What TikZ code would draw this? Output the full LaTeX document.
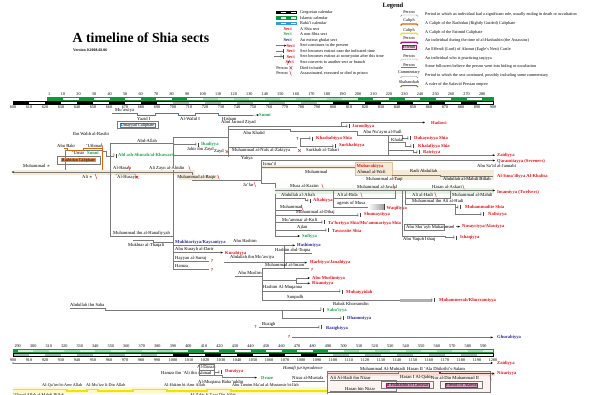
\documentclass[tikz,border=0pt]{standalone}
\usepackage{fontspec}
\setmainfont{Liberation Serif}
\usetikzlibrary{arrows.meta}
\definecolor{sred}{HTML}{E3121B}
\definecolor{sgreen}{HTML}{1AA64A}
\definecolor{sblue}{HTML}{2B2B9E}
\definecolor{igreen}{HTML}{0C9A3C}
\definecolor{lgreen}{HTML}{A6DDB6}
\definecolor{beige}{HTML}{F4EAD6}
\definecolor{twg}{HTML}{E4F2E0}
\definecolor{orng}{HTML}{D9650B}
\definecolor{ylw}{HTML}{F2E200}
\definecolor{fatim}{HTML}{FFF8C8}
\definecolor{mgt}{HTML}{B0106A}
\definecolor{lgr}{HTML}{7A7A7A}
\definecolor{bahai}{HTML}{2F9BD7}
\definecolor{umay}{HTML}{2A86C2}
\definecolor{nzpink}{HTML}{F9DCD4}
\definecolor{olv}{HTML}{8A7A2A}
\newcommand\labfont{\fontsize{4.6}{5}\selectfont}
\newcommand\legfont{\fontsize{4.2}{4.6}\selectfont}
\newcommand\lgbrk[3]{\draw[#2,line width=#3] (400.5,#1+1.4) -- (402,#1) -- (416.5,#1) -- (418,#1+1.4);}
\tikzset{
 lab/.style={anchor=west,inner sep=0,font=\labfont},
 sect/.style={anchor=west,inner sep=0,font=\labfont\bfseries,text=sred},
 sectg/.style={sect,text=sgreen},
 sectb/.style={sect,text=sblue},
 sc/.style={inner sep=0,font=\legfont},
 lg/.style={anchor=west,inner sep=0,font=\legfont},
 ln/.style={draw=lgr,line width=.45pt},
 arr/.style={-{Stealth[length=2.4pt,width=2pt,color=black]}},
 qm/.style={inner sep=0,font=\labfont\bfseries,text=sred},
 dk/.pic={\draw[sred,line width=.35pt] (-.8,-2.4)--(.8,2.4);},
 dx/.pic={\draw[sred,line width=.4pt] (-1.4,-1.5)--(1.4,1.5) (-1.4,1.5)--(1.4,-1.5);},
 sq/.pic={\node[inner sep=0,font=\fontsize{4}{4}\selectfont,text=black!65] (s) at (-2.1,0) {\S}; \draw[black!75,line width=.4pt] (0,-2)--(0,2);},
}
\begin{document}
\begin{tikzpicture}[x=1pt,y=-1pt]
\useasboundingbox (0,0) rectangle (600,394);
\clip (0,0) rectangle (600,394);
\fill[white] (0,0) rectangle (600,394);

% ---------- title ----------
\node[anchor=west,inner sep=0,font=\fontsize{13.8}{14}\selectfont\bfseries] (title) at (72.5,38) {A timeline of Shia sects};
\node[anchor=west,inner sep=0,font=\fontsize{3.9}{4}\selectfont\bfseries] (ver) at (73,50) {Version 0.2008.02.06};

% ---------- legend ----------
\node[inner sep=0,font=\fontsize{6.5}{7}\selectfont\bfseries] (leg) at (393,5.5) {Legend};
\foreach \k in {0,2} {\fill[black] ({276+5*\k},11) rectangle ++(5,2.6);}
\draw[black,line width=.35pt] (276,11) rectangle (296,13.6);
\foreach \k in {0,2} {\fill[igreen] ({276+5*\k},16.4) rectangle ++(5,2.6);}
\draw[igreen,line width=.35pt] (276,16.4) rectangle (296,19);
\foreach \k in {0,2} {\fill[bahai] ({276+5*\k},21.9) rectangle ++(5,2.6);}
\draw[bahai,line width=.35pt] (276,21.9) rectangle (296,24.5);
\node[sect,anchor=east] (ls4) at (292,28.9) {Sect};
\node[sectg,anchor=east] (ls5) at (292,34.4) {Sect};
\node[sectb,anchor=east] (ls6) at (292,40) {Sect};
\node[sect,anchor=east] (ls7) at (295,45.6) {Sect};
\draw[ln,arr] (276,45.6) -- (ls7.west);
\node[sect,anchor=east] (ls8) at (295,51.1) {Sect};
\draw[ln] (276,51.1) -- (283.5,51.1);
\draw[black!75,line width=.4pt] (283.5,49.2) -- (283.5,53);
\node[sect,anchor=east] (ls9) at (295,56.7) {Sect};
\draw[ln] (274,56.7) -- (283.5,56.7);
\pic at (283.5,56.7) {sq};
\node[sect,anchor=east] (ls10) at (294,62.2) {Sect};
\draw[black,line width=.3pt] (287.5,64.6) -- (289.5,59.8);
\node[lg,anchor=east] (ls11) at (288,67.8) {Person};
\pic at (290.8,67.8) {dx};
\node[lg,anchor=east] (ls12) at (288,73.3) {Person};
\pic at (290.5,73.3) {dk};

\node[lg] (lt1) at (300,12.3) {Gregorian calendar};
\node[lg] (lt2) at (300,17.8) {Islamic calendar};
\node[lg] (lt3) at (300,23.3) {Bahá'í calendar};
\node[lg] (lt4) at (300,28.9) {A Shia sect};
\node[lg] (lt5) at (300,34.4) {A non-Shia sect};
\node[lg] (lt6) at (300,40) {An extinct ghulat sect};
\node[lg] (lt7) at (300,45.6) {Sect continues to the present};
\node[lg] (lt8) at (300,51.1) {Sect becomes extinct near the indicated time};
\node[lg] (lt9) at (300,56.7) {Sect becomes extinct at some point after this time};
\node[lg] (lt10) at (300,62.2) {Sect converts to another sect or branch};
\node[lg] (lt11) at (300,67.8) {Died in battle};
\node[lg] (lt12) at (300,73.3) {Assassinated, executed or died in prison};

\node[sc] (lr1) at (409,11.8) {Person}; \lgbrk{15}{lgr}{.45pt}
\node[sc] (lr2) at (409,20.8) {Caliph}; \lgbrk{24}{orng}{1.3pt}
\node[sc] (lr3) at (409,30) {Caliph}; \lgbrk{33.3}{ylw}{1.3pt}
\node[sc] (lr4) at (409,38.4) {Person}; \lgbrk{42.2}{mgt}{1.3pt}
\node[sc,draw=mgt,fill=mgt!18,line width=.45pt,inner sep=.7pt] (lr5) at (409,47.4) {Effendi};
\node[sc] (lr6) at (409,55.8) {Person}; \draw[lgr,line width=.45pt,dash pattern=on 1pt off .7pt] (400.5,60.5) -- (402,59.2) -- (416.5,59.2) -- (418,60.5);
\node[sc] (lr7) at (409,64.8) {Person}; \draw[lgr,line width=.45pt] (401,67.3) -- (417,67.3);
\node[sc] (lr8) at (409,72.8) {Commentary}; \lgbrk{76.5}{lgr}{.45pt}
\node[sc] (lr9) at (409,81.8) {Shahanshah}; \lgbrk{85.6}{olv}{1.1pt}

\node[lg] (rt1) at (425,14) {Period in which an individual had a significant role, usually ending in death or occultation};
\node[lg] (rt2) at (425,23.3) {A Caliph of the Rashidun (Rightly Guided) Caliphate};
\node[lg] (rt3) at (425,32.2) {A Caliph of the Fatimid Caliphate};
\node[lg] (rt4) at (425,40.8) {An individual during the time of al-Hashashin (the Assassins)};
\node[lg] (rt5) at (425,49.3) {An Effendi (Lord) of Alamut (Eagle's Nest) Castle};
\node[lg] (rt6) at (425,58) {An individual who is practicing taqiyya};
\node[lg] (rt7) at (425,66.6) {Some followers believe the person went into hiding or occultation};
\node[lg] (rt8) at (425,75) {Period in which the sect continued, possibly including some commentary};
\node[lg] (rt9) at (425,84.6) {A ruler of the Safavid Persian empire};

% ---------- top scale ----------
\foreach \i in {0,2,...,8} {\fill[black] ({13+16*\i},101) rectangle ++(16,3);}
\foreach \i in {10,12,...,18} {\fill[gray!55] ({13+16*\i},101) rectangle ++(16,3);}
\foreach \i in {20,22,...,28} {\fill[black] ({13+16*\i},101) rectangle ++(16,3);}
\draw[black,line width=.45pt] (13,101) rectangle (493,104);
\fill[lgreen!45] ({47.51+1.5523*100},96.8) rectangle ({47.51+1.5523*200},99.8);
\foreach \n in {0,20,...,80} {\fill[igreen] ({47.51+1.5523*\n},96.8) rectangle ({47.51+1.5523*(\n+10)},99.8);}
\foreach \n in {100,120,...,180} {\fill[lgreen] ({47.51+1.5523*\n},96.8) rectangle ({47.51+1.5523*(\n+10)},99.8);}
\foreach \n in {200,220,...,280} {\fill[igreen] ({47.51+1.5523*\n},96.8) rectangle ({min(493,47.51+1.5523*(\n+10))},99.8);}
\draw[igreen,line width=.45pt] (47.5,96.8) rectangle (493,99.8);
\foreach \i [evaluate=\i as \yr using int(600+10*\i)] in {0,...,30} {\node[sc] (gt\i) at ({13+16*\i},107.2) {\yr};}
\node[sc] (it1) at (49.06,94.6) {1};
\foreach \n in {10,20,...,280} {\node[sc] (it\n) at ({47.51+1.5523*\n},94.6) {\n};}

% ---------- bottom scale ----------
\foreach \i in {0,2,...,8} {\fill[gray!55] ({13+16*\i},353.3) rectangle ++(16,2.8);}
\foreach \i in {10,12,...,18} {\fill[black] ({13+16*\i},353.3) rectangle ++(16,2.8);}
\foreach \i in {20,22,...,28} {\fill[gray!55] ({13+16*\i},353.3) rectangle ++(16,2.8);}
\draw[black,line width=.45pt] (13,353.3) rectangle (493,356.1);
\fill[lgreen!45] (17.7,349.3) rectangle ({-432.49+1.5523*400},352.1);
\fill[lgreen!45] ({-432.49+1.5523*500},349.3) rectangle (493,352.1);
\fill[igreen] (13,349.3) rectangle (17.7,352.1);
\foreach \n in {300,320,...,380} {\fill[lgreen] ({-432.49+1.5523*\n},349.3) rectangle ({-432.49+1.5523*(\n+10)},352.1);}
\foreach \n in {400,420,...,480} {\fill[igreen] ({-432.49+1.5523*\n},349.3) rectangle ({-432.49+1.5523*(\n+10)},352.1);}
\foreach \n in {500,520,...,580} {\fill[lgreen] ({-432.49+1.5523*\n},349.3) rectangle ({min(493,-432.49+1.5523*(\n+10))},352.1);}
\draw[igreen,line width=.45pt] (13,349.3) rectangle (493,352.1);
\foreach \i [evaluate=\i as \yr using int(900+10*\i)] in {0,...,30} {\node[sc] (gb\i) at ({13+16*\i},360.2) {\yr};}
\foreach \n in {290,300,...,590} {\node[sc] (ib\n) at ({-432.49+1.5523*\n},345.7) {\n};}

% ---------- Umayyads ----------
\draw[umay,line width=.8pt] (112,113.3)--(137,113.3)--(137,115.2)--(155,115.2)--(155,113.3)--(178,113.3)--(178,115.2)--(195,115.2)--(195,113.3)--(218,113.3)--(218,115.2)--(253,115.2);
\node[sectg] (sunni1) at (259,115) {Sunni};
\draw[ln,arr] (253,115.2) -- (sunni1.west);
\node[lab] (muawiya) at (115,110.6) {Mu'awiya};
\node[lab] (yazid) at (137,118.8) {Yazid I};
\node[lab] (walid) at (180,118.8) {Al-Walid I};
\node[lab] (hisham) at (222,118.5) {Hisham};
\draw[lgr,line width=.35pt] (117,121.6) rectangle (158,128.6);
\node[inner sep=.5pt,font=\legfont,draw=umay,fill=umay!8,line width=.35pt] (umc) at (137.5,125.1) {Umayyad Caliphate};

% ---------- Rashidun ----------
\node[lab] (ibnwahb) at (73,133.5) {Ibn Wahb al-Rasibi};
\node[lab] (abubakr) at (57,145.7) {Abu Bakr};
\node[lab] (uthman) at (86,145.7) {'Uthman};
\pic at (102,145.7) {dk};
\node[lab] (umar) at (72,153) {'Umar};
\node[sectg] (sunni2) at (87,153) {Sunni};
\draw[ln] (65,150) rectangle (102.5,172);
\draw[orng,line width=1.3pt] (64,148.6)--(67.5,148.6)--(67.5,150.4)--(83.5,150.4)--(83.5,148.6)--(102.5,148.6)--(102.5,172)--(110.5,172);
\draw[lgr,line width=.35pt] (57,156.3) rectangle (100,163.7);
\node[inner sep=.5pt,font=\legfont,fill=orng!75] (rc) at (78.5,160) {Rashidun Caliphate};
\draw[ln] (102.5,151)--(106,151)--(106,155.8)--(114,155.8);
\pic at (116,155.8) {sq};
\node[sectg] (khaw) at (118,155.8) {Ahl ash-Shurah/al-Khawarij};

% ---------- Muhammad and Ali ----------
\fill[beige] (13,169.5) rectangle (195,175);
\draw[ln] (13,172)--(192,172)--(192,180.5)--(261,180.5);
\fill (13,172) circle[radius=.8pt];
\node[lab] (muh) at (23,166) {Muhammad $\ast$};
\node[lab] (ali) at (82,176.5) {Ali $\ast$};
\pic at (96,176.5) {dk};
\draw[ln] (110,143.5)--(110,236)--(173,236);
\node[lab] (abdallah) at (137,140.8) {Abd-Allah};
\draw[ln] (110,143.5)--(173,143.5);
\draw[ln] (173,137)--(173,269);
\node[lab] (hasan) at (113,168) {Al-Hasan};
\pic at (129,168) {dk};
\node[lab] (husayn) at (117,177.3) {Al-Husayn};
\pic at (137,177.3) {dx};
\draw[ln] (115.5,175.2)--(117,174)--(134.5,174)--(136,175.2);
\node[lab,fill=white] (zayn) at (149,168) {Ali Zayn al-Abidin};
\pic at (189.5,168) {dk};
\fill[beige] (179,174.5) rectangle (218,180);
\node[lab,anchor=east] (baqir) at (216,177.3) {Muhammad al-Baqir};
\pic at (218.5,177.3) {dk};
\node[lab] (jafar) at (243,185) {Ja'far};
\pic at (255,184.6) {dk};
\draw[ln] (261,160.5)--(261,183)--(275,183)--(275,236);

% ---------- Ibadiyya / Zaydis ----------
\draw[ln] (173,144.5)--(196,144.5);
\pic at (198,144.5) {sq};
\node[sectg] (ibadiyya) at (201,144.2) {Ibadiyya};
\node[lab] (jabir) at (187,148.9) {Jabir ibn Zayd};
\node[lab] (zayd) at (214,151.6) {Zayd};
\pic at (227,151.6) {dx};
\draw[ln] (173,137)--(228,137);
\draw[ln] (228,126)--(228,157);
\node[lab] (jarood) at (221,122.8) {Abul Jarood Ziyad};
\draw[ln] (228,126)--(347,126);
\pic at (349,126.3) {sq};
\node[sect] (jaroodiyya) at (352,126.5) {Jaroodiyya};
\draw[ln,arr] (341,126)--(341,122.5)--(425,122.5);
\node[sect] (hadawi) at (431,122.5) {Hadawi};
\node[lab] (abukhalid) at (243,132.5) {Abu Khalid};
\draw[ln] (228,129.5)--(290,129.5)--(290,131)--(357,131)--(357,135.5)--(402,135.5)--(402,138)--(408,138);
\node[lab] (abunuaym) at (363,132.6) {Abu Nu'aym al-Fadl};
\pic at (410,138) {sq};
\node[sect] (dukay) at (414,138) {Dukayniyya Shia};
\node[lab] (khalaf) at (391,140.2) {Khalaf};
\draw[ln] (388,135.5)--(388,155);
\draw[ln] (388,142.6)--(405,142.6)--(405,146)--(411,146);
\pic at (413,146) {sq};
\node[sect] (khalafiyya) at (418,146) {Khalafiyya Shia};
\draw[ln] (388,150)--(413,150)--(413,152.2)--(417,152.2);
\pic at (419,152.2) {sq};
\node[sect] (batriyya) at (423,152.2) {Batriyya};
\draw[ln,arr] (173,155.2)--(495,155.2);
\node[sect] (zaid1) at (497,155.7) {Zaidiyya};
\node[lab] (yahya) at (241,158.6) {Yahya};
\draw[ln] (228,147)--(297,147);
\node[lab] (nafs) at (232,150.6) {Muhammad al-Nafs al-Zakiyya};
\pic at (299.5,150.6) {dx};
\node[qm,text=black!80] (q1) at (297.5,139.3) {?};
\draw[ln] (300,138.5)--(310,138.5);
\pic at (312,138.5) {sq};
\node[sect] (khash) at (316,138) {Khashabiyya Shia};
\draw[ln] (300,138.5)--(300,146.3)--(333,146.3);
\pic at (335,146.3) {sq};
\node[sect] (surkh) at (339,145.8) {Surkhabiyya};
\node[lab] (surkhab) at (306,150.3) {Surkhab al-Tabari};

% ---------- Isma'ilis ----------
\fill[beige] (262,164.8) rectangle (356,169);
\fill[beige] (355,162.5) rectangle (392,175.5);
\fill[beige] (392,169.5) rectangle (494,179.5);
\draw[beige!60!brown,line width=.3pt] (355,162.5) rectangle (392,175.5);
\draw[ln,arr] (261,160.5)--(495,160.5);
\node[sect] (qaram) at (497,161.5) {Qaramitayya (Seveners)};
\node[lab] (abusaid) at (477,166.3) {Abu Sa'id al-Jannabi};
\node[lab] (ismail) at (263,163.5) {Isma'il};
\draw[ln] (262,166.8)--(355,166.8);
\node[lab] (muh2) at (305,171.8) {Muhammad};
\node[sect] (mubar) at (356.5,166.3) {Mubarakiyya};
\node[lab] (wafi) at (357,171.8) {Ahmad al-Wafi};
\node[lab] (radi) at (410,171.2) {Radi Abdullah};
\node[lab] (taqi) at (366,179.4) {Muhammad al-Taqi};
\draw[ln] (392,175.5)--(440,175.5)--(440,176.6)--(493,176.6);
\node[lab] (mahdibillah) at (443,179.4) {Abdullah al-Mahdi Billah};
\node[sect] (khalisa) at (497,176.6) {Al-Isma'iliyya Al-Khalisa};

% ---------- Twelvers ----------
\fill[twg] (275,187.5) rectangle (494,193.5);
\draw[ln,arr] (275,190.5)--(495,190.5);
\node[sect] (imam) at (497,192.4) {Imamiyya (Twelvers)};
\node[lab] (musa) at (290,186) {Musa al-Kazim};
\pic at (322.5,186) {dk};
\node[lab] (jawad) at (357,186.6) {Muhammad al-Jawad};
\pic at (394,186.6) {dk};
\node[lab] (askari) at (432,187) {Hasan al-Askari};
\pic at (463.5,187) {dk};
\node[lab] (rida) at (337,195) {Ali al-Rida};
\pic at (361.5,195) {dk};
\node[lab] (hadi) at (412,194.8) {Ali al-Hadi};
\pic at (435.5,194.8) {dk};
\node[lab] (mahdi) at (452,195) {Muhammad al-Mahdi};
\draw[ln] (333,190.5)--(333,206.8)--(368,206.8);
\draw[ln] (333,198)--(395,198)--(395,190.5);
\node[lab] (agents) at (337,203.6) {agents of Musa};
\shade[left color=white,right color=gray!75] (368,204.2) rectangle (384,209.4);
\draw[black!75,line width=.4pt] (384,203.6)--(384,210);
\node[sect] (waqif) at (386.5,208.6) {Waqifiyya};
\draw[ln] (405,190.5)--(405,204)--(455,204)--(455,214)--(481,214);
\draw[ln] (405,198)--(450,198)--(450,190.5);
\node[lab] (mibnali) at (412,201) {Muhammad ibn Ali al-Hadi};
\draw[ln] (455,207.2)--(458,207.2);
\pic at (460,207.2) {sq};
\node[sect] (muhammadite) at (465,207.4) {Muhammadite Shia};
\pic at (483,214) {sq};
\node[sect] (nafisiyya) at (488,214.2) {Nafisiyya};
\node[lab] (aftah) at (281,195.3) {Abdullah al-Aftah};
\draw[ln] (275,198.4)--(305,198.4)--(305,200.6)--(308,200.6);
\pic at (310,200.6) {sq};
\node[sect] (aftahiyya) at (313,200.8) {Aftahiyya};
\node[lab] (muh3) at (280,207.4) {Muhammad};
\pic at (302,207.4) {dk};
\draw[ln] (275,210)--(302,210);
\node[lab] (dibaj) at (296,212.4) {Muhammad al-Dibaj};
\draw[ln] (275,215.2)--(358,215.2);
\pic at (360,215.2) {sq};
\node[sect] (shumayt) at (364,214.8) {Shumaytiyya};
\node[lab] (muammar) at (282,219.4) {Mu'ammar al-Kufi};
\draw[ln] (275,222.4)--(322,222.4);
\pic at (324,222.4) {sq};
\node[sect] (tafur) at (328,223.2) {Ta'furiyya Shia/Mu'ammariyya Shia};
\node[lab] (ajlan) at (297,227.6) {Ajlan};
\draw[ln] (275,230.4)--(326,230.4);
\pic at (328,230.4) {sq};
\node[sect] (tawus) at (332,231.4) {Tawussite Shia};
\draw[ln,arr] (275,236)--(300,236);
\node[sectg] (sufiyya) at (302,236) {Sufiyya};

% ---------- Nusayris ----------
\draw[ln] (402,190.5)--(402,236.6);
\draw[ln] (404,223.8) rectangle (444,229.8);
\node[lab] (shuayb) at (406,226.9) {Abu Shu'ayb Muhammad};
\draw[lgr,dashed,line width=.8pt,arr] (444,226.6)--(460,226.6);
\node[sect] (nusayri) at (462,226.4) {Nusayriyya/Alawiyya};
\node[lab] (ishaq) at (403,239.4) {Abu Yaqub Ishaq};
\draw[ln] (402,236.6)--(445,236.6)--(445,237.6)--(454,237.6);
\pic at (456,237.6) {sq};
\node[sect] (ishaqiyya) at (460,237.4) {Ishaqiyya};

% ---------- Kaysanis / Hashimiyya ----------
\node[lab] (hanaf) at (113,233) {Muhammad ibn al-Hanafiyyah};
\node[lab] (mukhtar) at (128,245.3) {Mukhtar al-Thaqafi};
\draw[ln] (133,240.3)--(153,240.3)--(153,242.3)--(173,242.3);
\node[sectb] (kaysan) at (175,242) {Mukhtariyya/Kaysaniyya};
\node[lab] (abuhashim) at (233,241) {Abu Hashim};
\draw[ln,arr] (173,245.4)--(295,245.4);
\node[sectb] (hashimiyya) at (297,245.2) {Hashimiyya};
\node[lab] (kurayb) at (175,249.6) {Abu Kurayb al-Darir};
\draw[ln,arr] (173,252.6)--(223,252.6);
\node[sect] (kurabiyya) at (225,253) {Kurabiyya};
\node[lab] (hayyan) at (175,258.2) {Hayyan al-Sarraj};
\draw[ln] (173,261)--(209,261);
\node[qm] (q2) at (212,260.6) {?};
\node[lab] (hamza1) at (175,266.4) {Hamza};
\draw[ln] (173,269)--(209,269);
\node[qm] (q3) at (212,269.6) {?};
\node[lab] (muawiya2) at (230,257.6) {Abdallah ibn Mu'awiya};
\draw[ln,arr] (224,262.6)--(307,262.6);
\node[sect] (harb) at (310,262.8) {Harbiyya/Janahiyya};
\draw[ln] (284,245.4)--(284,268);
\node[lab] (hashimx) at (275,250.3) {Hashim abd-Tuqna};
\draw[ln] (284,253.2)--(312,253.2);
\node[lab] (imam2) at (265,265.3) {Muhammad al-Imam};
\draw[ln] (262,268)--(309,268);
\node[qm] (q4) at (312,270) {?};
\node[lab] (abumuslim) at (238,273.3) {Abu Muslim};
\draw[ln] (235,276)--(262,276);
\draw[ln] (262,268)--(262,300);
\draw[ln] (262,280.6)--(296,280.6);
\draw[lgr,line width=.4pt] (296,278)--(296,283.3);
\draw[lgr,line width=.4pt,arr] (296,278)--(310,278);
\draw[lgr,line width=.4pt,arr] (296,283.3)--(310,283.3);
\node[sect] (abumuslimiyya) at (312,278) {Abu Muslimiyya};
\node[sect] (rizam) at (312,283.4) {Rizamiyya};
\node[lab] (muqanna) at (263,287.3) {Hashim Al-Muqanna};
\draw[ln] (262,291.6)--(340,291.6);
\pic at (342,291.6) {sq};
\node[sect] (mubay) at (346,292) {Mubaiyyidah};
\node[lab] (sunpadh) at (287,297.3) {Sunpadh};
\draw[ln] (262,300.3)--(400,300.3);
\fill[lgr!60] (400,299.1) rectangle (432,301.5);
\pic at (434,300.3) {sq};
\node[sect] (khurr) at (439,300.5) {Muhammerah/Khurramiyya};
\node[lab] (babak) at (333,303.8) {Babak Khorramdin};

% ---------- Saba'iyya etc ----------
\node[lab] (saba) at (70,305) {Abdullah ibn Saba};
\draw[ln] (70,307.8)--(105,307.8)--(105,309.8)--(321,309.8);
\pic at (323,309.8) {sq};
\node[sectg] (sabaiyya) at (327,310) {Saba'iyya};
\draw[ln] (282,309.8)--(282,318.4)--(341,318.4);
\pic at (343,318.4) {sq};
\node[sectb] (dhamm) at (347,318.8) {Dhammiyya};
\node[qm] (q5) at (255.5,326.6) {?};
\node[lab] (buzigh) at (262,324) {Buzigh};
\draw[ln] (258.5,327.2)--(319,327.2);
\pic at (321,327.2) {sq};
\node[sectb] (bazigh) at (326,328.2) {Bazighiyya};
\node[qm] (q6) at (289,337.5) {?};
\draw[ln,arr] (292,337.4)--(493,337.4);
\node[sectb] (ghurab) at (497,337.4) {Ghurabiyya};

% ---------- bottom section ----------
\fill (13,363) circle[radius=.6pt];
\draw[ln,arr] (13,363)--(493,363);
\node[sect] (zaid2) at (497,363.5) {Zaidiyya};
\node[lab,font=\labfont\itshape] (hanafi) at (283,368.6) {Hanafi jurisprudence};
\node[lab] (darazi) at (197,367.3) {Al-Darazi};
\node[lab] (hamza2) at (161,372.6) {Hamza ibn 'Ali ibn Ahmad};
\draw[ln] (199,364.6) rectangle (214,370);
\draw[ln] (199,370) rectangle (214,375.2);
\draw[ln] (214,372)--(219,372);
\pic at (221,372) {sq};
\node[sect] (durz) at (225,371.8) {Durziyya};
\draw[ln,arr] (214,375.2)--(222,375.2)--(222,377.6)--(257,377.6);
\node[sectg] (druze) at (261,377.6) {Druze};
\node[lab] (muqtana) at (198,382) {Al-Muqtana Baha'uddin};
\node[lab] (nizar) at (292,378.2) {Nizar al-Mustafa};
\pic at (327.5,378.2) {dk};
\draw[ln] (292,380.9)--(325,380.9);

% Nizaris
\fill[nzpink!35] (327,371.5) rectangle (490,392.5);
\fill[nzpink] (327,371.5) rectangle (495,376);
\draw[lgr,line width=.4pt] (327,371.5) rectangle (490,392.5);
\node[lab] (muhtadi) at (360,368.8) {Muhammad Al-Muhtadi};
\node[lab] (hasan2) at (407,368.8) {Hasan II 'Ala Dhikrihi's-Salam};
\draw[ln] (327,373.6)--(398,373.6)--(398,371.6)--(440,371.6);
\draw[mgt,line width=1.3pt] (440,371.6)--(440,373.6)--(492,373.6);
\draw[ln,arr] (491,373.6)--(494.5,373.6);
\node[sect] (nizariyya) at (497,373.8) {Nizariyya};
\pic at (490.5,377.8) {dk};
\node[lab] (alihadi2) at (330,377.6) {Ali Al-Hadi ibn Nizar};
\node[lab] (hasan1) at (400,377.6) {Hasan I Al-Qahir};
\node[lab] (nurdin) at (431,377.6) {Nur al-Din Muhammad II};
\draw[ln] (330,380.4)--(396,380.4)--(396,391)--(330,391);
\draw[lgr,line width=.35pt] (381.5,381.6) rectangle (433.5,388.6);
\node[inner sep=.5pt,font=\legfont,fill=mgt!40,draw=mgt,line width=.35pt] (hashsh) at (407.5,385.1) {al-Hashashin of Lamasar};
\draw[lgr,line width=.35pt] (440.5,381.6) rectangle (482.5,388.6);
\node[inner sep=.5pt,font=\legfont,fill=mgt!40,draw=mgt,line width=.35pt] (effa) at (461.5,385.1) {Effendi of Alamut};
\node[lab] (hasanbin) at (345,389.2) {Hasan bin Nizar};

% Fatimids
\fill[fatim] (13,386.8) rectangle (327,394);
\draw[ylw,line width=1.3pt] (13,389.2)--(67,389.2)--(67,391)--(87,391)--(87,389.2)--(98,389.2)--(98,391)--(133,391)--(133,389.2)--(167,389.2)--(167,391)--(207,391)--(207,389.2)--(231,389.2)--(231,391)--(327,391);
\draw[ln] (327,376)--(327,394);
\node[lg] (qaim) at (42,385.5) {Al-Qa'im bi-Amr Allah};
\node[lg] (muizz) at (86,385.5) {Al-Mu'izz li-Din Allah};
\node[lg] (hakim) at (164,385.5) {Al-Hakim bi-Amr Allah};
\node[lg] (mustansir) at (232,385.5) {Abu Tamim Ma'ad al-Mustansir bi-llah};
\node[lg] (ubayd) at (13,395.3) {'Ubayd Allah al-Mahdi Billah};
\node[lg] (zahir) at (190,395.3) {Al-Zahir li-I'zaz Din Allah};
\end{tikzpicture}
\end{document}
